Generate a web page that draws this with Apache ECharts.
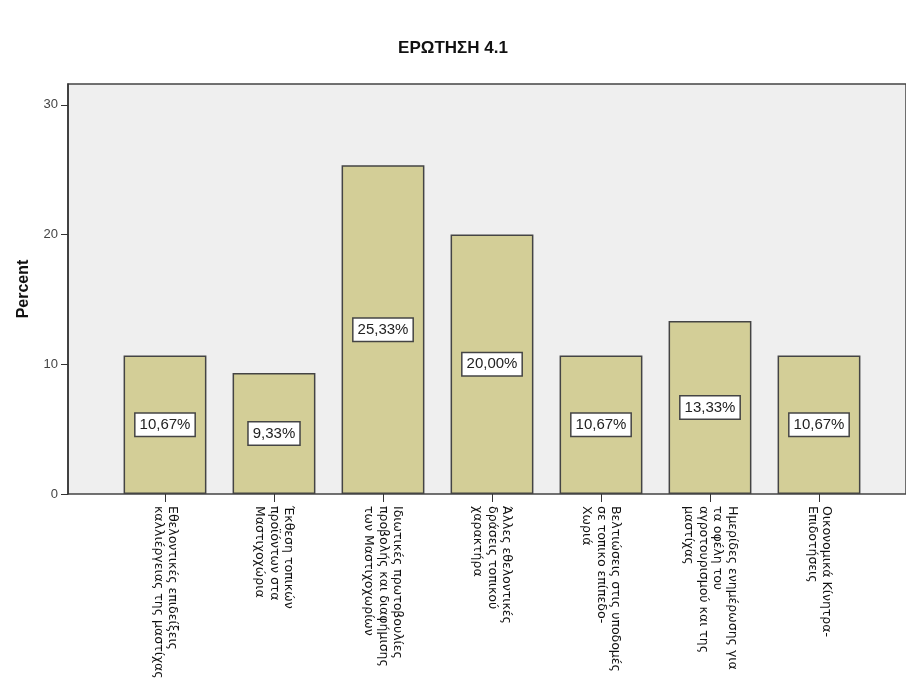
<!DOCTYPE html>
<html>
<head>
<meta charset="utf-8">
<script src="https://cdn.jsdelivr.net/npm/echarts@6/dist/echarts.min.js"></script>
<style>html,body{margin:0;padding:0;background:#fff;}#c{width:906px;height:693px;}</style>
</head>
<body>
<div id="c"></div>
<script>
const title = 'ΕΡΩΤΗΣΗ 4.1';
const categories = [
  'Εθελοντικές επιδείξεις\nκαλλιέργειας της μαστίχας',
  'Έκθεση τοπικών\nπροϊόντων στα\nΜαστιχοχώρια',
  'Ιδιωτικές πρωτοβουλίες\nπροβολής και διαφήμισης\nτων Μαστιχοχωρίων',
  'Άλλες εθελοντικές\nδράσεις τοπικού\nχαρακτήρα',
  'Βελτιώσεις στις υποδομές\nσε τοπικο επίπεδο-\nΧωριά',
  'Ημερίδες ενημέρωσης για\nτα οφέλη του\nαγροτουρισμού και της\nμαστίχας',
  'Οικονομικά Κίνητρα-\nΕπιδοτήσεις'
];
const percents = [10.67, 9.33, 25.33, 20.00, 10.67, 13.33, 10.67];
const yTicks = [0, 10, 20, 30];
const yName = 'Percent';

const chart = echarts.init(document.getElementById('c'), null, {renderer: 'canvas'});
const font = 'Liberation Sans, Arial, sans-serif';
chart.setOption({
  animation: false,
  title: {
    text: title, left: 'center', top: 35,
    textStyle: {fontFamily: font, fontSize: 17, fontWeight: 'bold', color: '#111'}
  },
  grid: [
    {left: 68, top: 84, right: -20, height: 410, show: true, backgroundColor: '#efefef', borderColor: '#444', borderWidth: 1.5},
    {left: 110.5, top: 84, right: 32.5, height: 410}
  ],
  xAxis: [
    {gridIndex: 0, type: 'value', show: false},
    {
      gridIndex: 1, type: 'category', data: categories,
      axisLine: {show: false},
      axisTick: {show: true, alignWithLabel: true, length: 8, lineStyle: {color: '#333', width: 1}},
      axisLabel: {rotate: -90, margin: 12, interval: 0, fontFamily: 'DejaVu Sans, sans-serif', fontSize: 12.5, lineHeight: 14.5, color: '#111'}
    }
  ],
  yAxis: [
    {gridIndex: 0, type: 'value', show: false},
    {
      gridIndex: 1, type: 'value', min: 0, max: 31.6, interval: 10, offset: 42.5,
      name: yName, nameLocation: 'middle', nameGap: 36,
      nameTextStyle: {fontFamily: font, fontSize: 16, fontWeight: 'bold', color: '#111'},
      axisLine: {show: true, lineStyle: {color: '#333', width: 1.5}},
      axisTick: {show: true, length: 7, customValues: yTicks, lineStyle: {color: '#333'}},
      axisLabel: {margin: 10, customValues: yTicks, fontFamily: font, fontSize: 13, color: '#444'},
      splitLine: {show: false}
    }
  ],
  series: [{
    type: 'bar', xAxisIndex: 1, yAxisIndex: 1,
    data: percents, barWidth: '76%',
    itemStyle: {color: '#d3ce97', borderColor: '#444', borderWidth: 1.5},
    label: {
      show: true, position: 'inside',
      formatter: p => p.value.toFixed(2).replace('.', ',') + '%',
      fontFamily: font, fontSize: 15, color: '#222',
      backgroundColor: '#fff', borderColor: '#444', borderWidth: 1.5, padding: [4, 4, 3, 4]
    }
  }]
});
</script>
</body>
</html>
